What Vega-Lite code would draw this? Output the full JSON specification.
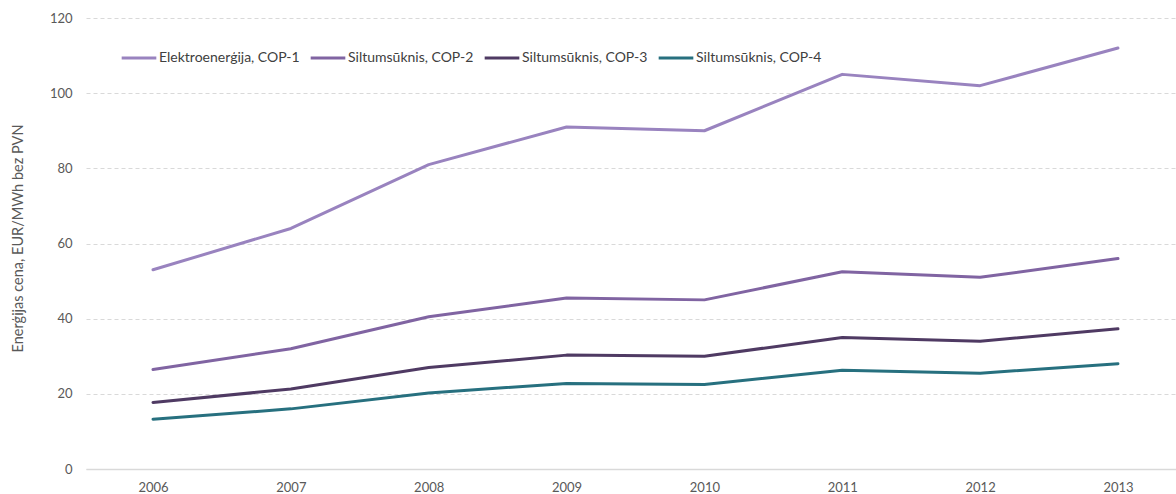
{
  "$schema": "https://vega.github.io/schema/vega-lite/v6.json",
  "autosize": "none",
  "width": 1090,
  "height": 451,
  "padding": {"left": 86, "top": 18, "right": 0, "bottom": 25},
  "background": "white",
  "config": {
    "view": {"stroke": null},
    "font": "Lato",
    "axis": {"labelFont": "Lato", "titleFont": "Lato", "labelColor": "#595959", "titleColor": "#595959", "labelFontSize": 13, "titleFontSize": 14.5, "titleFontWeight": "normal"},
    "legend": {"labelFont": "Lato", "labelFontSize": 14, "labelColor": "#404040"}
  },
  "data": {
    "values": [
      {"year": 2006, "series": "Elektroenerģija, COP-1", "value": 53},
      {"year": 2007, "series": "Elektroenerģija, COP-1", "value": 64},
      {"year": 2008, "series": "Elektroenerģija, COP-1", "value": 81},
      {"year": 2009, "series": "Elektroenerģija, COP-1", "value": 91},
      {"year": 2010, "series": "Elektroenerģija, COP-1", "value": 90},
      {"year": 2011, "series": "Elektroenerģija, COP-1", "value": 105},
      {"year": 2012, "series": "Elektroenerģija, COP-1", "value": 102},
      {"year": 2013, "series": "Elektroenerģija, COP-1", "value": 112},
      {"year": 2006, "series": "Siltumsūknis, COP-2", "value": 26.5},
      {"year": 2007, "series": "Siltumsūknis, COP-2", "value": 32},
      {"year": 2008, "series": "Siltumsūknis, COP-2", "value": 40.5},
      {"year": 2009, "series": "Siltumsūknis, COP-2", "value": 45.5},
      {"year": 2010, "series": "Siltumsūknis, COP-2", "value": 45},
      {"year": 2011, "series": "Siltumsūknis, COP-2", "value": 52.5},
      {"year": 2012, "series": "Siltumsūknis, COP-2", "value": 51},
      {"year": 2013, "series": "Siltumsūknis, COP-2", "value": 56},
      {"year": 2006, "series": "Siltumsūknis, COP-3", "value": 17.7},
      {"year": 2007, "series": "Siltumsūknis, COP-3", "value": 21.3},
      {"year": 2008, "series": "Siltumsūknis, COP-3", "value": 27},
      {"year": 2009, "series": "Siltumsūknis, COP-3", "value": 30.3},
      {"year": 2010, "series": "Siltumsūknis, COP-3", "value": 30},
      {"year": 2011, "series": "Siltumsūknis, COP-3", "value": 35},
      {"year": 2012, "series": "Siltumsūknis, COP-3", "value": 34},
      {"year": 2013, "series": "Siltumsūknis, COP-3", "value": 37.3},
      {"year": 2006, "series": "Siltumsūknis, COP-4", "value": 13.25},
      {"year": 2007, "series": "Siltumsūknis, COP-4", "value": 16},
      {"year": 2008, "series": "Siltumsūknis, COP-4", "value": 20.25},
      {"year": 2009, "series": "Siltumsūknis, COP-4", "value": 22.75},
      {"year": 2010, "series": "Siltumsūknis, COP-4", "value": 22.5},
      {"year": 2011, "series": "Siltumsūknis, COP-4", "value": 26.25},
      {"year": 2012, "series": "Siltumsūknis, COP-4", "value": 25.5},
      {"year": 2013, "series": "Siltumsūknis, COP-4", "value": 28}
    ]
  },
  "mark": {"type": "line", "strokeWidth": 3, "interpolate": "linear", "strokeCap": "round", "strokeJoin": "round"},
  "encoding": {
    "x": {
      "field": "year", "type": "quantitative",
      "scale": {"domain": [2005.514, 2013.421], "nice": false, "zero": false},
      "axis": {"title": null, "values": [2006, 2007, 2008, 2009, 2010, 2011, 2012, 2013], "format": "d", "grid": false, "ticks": false, "domainColor": "#d9d9d9", "domainWidth": 1.5, "labelPadding": 12}
    },
    "y": {
      "field": "value", "type": "quantitative",
      "scale": {"domain": [0, 120], "nice": false},
      "axis": {"title": "Enerģijas cena, EUR/MWh bez PVN", "values": [0, 20, 40, 60, 80, 100, 120], "domain": false, "ticks": false, "gridColor": "#d9d9d9", "gridDash": [4, 3], "labelPadding": 14, "titlePadding": 24, "titleY": 220}
    },
    "color": {
      "field": "series", "type": "nominal",
      "scale": {"range": ["#9983bf", "#8064a2", "#4f3a63", "#27707f"]},
      "legend": {"title": null, "orient": "none", "direction": "horizontal", "legendX": 34, "legendY": 21, "symbolType": "stroke", "symbolSize": 1200, "symbolStrokeWidth": 3, "labelOffset": 1, "columnPadding": 4}
    }
  }
}
